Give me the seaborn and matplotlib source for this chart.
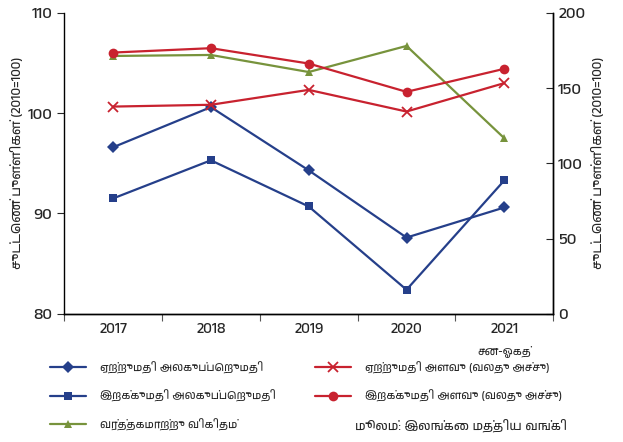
import numpy as np
import pandas as pd
import matplotlib
matplotlib.use('Agg')
import matplotlib.pyplot as plt
import seaborn as sns
from matplotlib import font_manager

# Data
years = ['2017', '2018', '2019', '2020', '2021']
period_note = 'சன-ஓகத்'   # under 2021
export_unit_value = [96.6, 100.6, 94.3, 87.6, 90.6]
import_unit_value = [91.5, 95.3, 90.7, 82.4, 93.3]
terms_of_trade = [105.7, 105.8, 104.1, 106.7, 97.5]
export_volume = [137.7, 138.9, 148.8, 134.4, 153.3]   # right axis
import_volume = [173.6, 176.5, 166.3, 147.5, 162.8]   # right axis

lbl_euv = 'ஏற்றுமதி அலகுப்பெறுமதி'
lbl_iuv = 'இறக்குமதி அலகுப்பெறுமதி'
lbl_tot = 'வர்த்தகமாற்று விகிதம்'
lbl_ev = 'ஏற்றுமதி அளவு (வலது அச்சு)'
lbl_iv = 'இறக்குமதி அளவு (வலது அச்சு)'
ylabel = 'சுட்டெண் புள்ளிகள் (2010=100)'
source = 'மூலம்: இலங்கை மத்திய வங்கி'

blue = '#253f8a'
red = '#c8222f'
green = '#77933c'

sns.set_style('ticks')
tamil = sorted({f.name for f in font_manager.fontManager.ttflist if 'Tamil' in f.name})
plt.rcParams['font.family'] = tamil[:1] + ['DejaVu Sans']

x = np.arange(len(years))
df = pd.DataFrame({'x': x, 'euv': export_unit_value, 'iuv': import_unit_value,
                   'tot': terms_of_trade, 'ev': export_volume, 'iv': import_volume})

fig = plt.figure(figsize=(6.23, 4.42), dpi=100)
ax = fig.add_axes([0.103, 0.29, 0.785, 0.681])
ax2 = ax.twinx()

sns.lineplot(data=df, x='x', y='euv', ax=ax, color=blue, marker='D', markersize=6,
             markeredgewidth=0, lw=1.6, label=lbl_euv, legend=False)
sns.lineplot(data=df, x='x', y='iuv', ax=ax, color=blue, marker='s', markersize=6,
             markeredgewidth=0, lw=1.6, label=lbl_iuv, legend=False)
sns.lineplot(data=df, x='x', y='tot', ax=ax, color=green, marker='^', markersize=6,
             markeredgewidth=0, lw=1.6, label=lbl_tot, legend=False)
sns.lineplot(data=df, x='x', y='ev', ax=ax2, color=red, marker='x', markersize=7,
             markeredgecolor=red, markeredgewidth=1.3, lw=1.6, label=lbl_ev, legend=False)
sns.lineplot(data=df, x='x', y='iv', ax=ax2, color=red, marker='o', markersize=7,
             markeredgewidth=0, lw=1.6, label=lbl_iv, legend=False)

ax.set_ylim(80, 110)
ax.set_yticks([80, 90, 100, 110])
ax2.set_ylim(0, 200)
ax2.set_yticks([0, 50, 100, 150, 200])
ax.set_xlim(-0.5, len(years) - 0.5)

# category boundaries as ticks, labels centred on categories
ax.set_xticks(np.arange(len(years) + 1) - 0.5)
ax.set_xticklabels([])
ax.set_xticks(x, minor=True)
ax.set_xticklabels(years, minor=True, fontsize=11)
ax.tick_params(axis='x', which='minor', length=0, pad=6)
ax.tick_params(axis='x', which='major', length=5, direction='out', color='#555555')
ax.tick_params(axis='y', labelsize=12, length=5, direction='out')
ax2.tick_params(axis='y', labelsize=12, length=5, direction='in')

ax.text(x[-1], -0.125, period_note, transform=ax.get_xaxis_transform(),
        ha='center', va='center', fontsize=8)

for a in (ax, ax2):
    a.spines['top'].set_visible(False)
    a.set_xlabel('')
    for s in a.spines.values():
        s.set_color('black')
        s.set_linewidth(1)
ax2.spines['left'].set_visible(False)

ax.set_ylabel(ylabel, fontsize=9.5, labelpad=3)
ax2.set_ylabel(ylabel, fontsize=9.5, labelpad=4)

h1, l1 = ax.get_legend_handles_labels()
h2, l2 = ax2.get_legend_handles_labels()
fig.legend(h1 + h2, l1 + l2, ncol=2, loc='upper left', bbox_to_anchor=(0.065, 0.205),
           frameon=False, fontsize=8, handlelength=3.2, handletextpad=1.3,
           columnspacing=3.5, labelspacing=1.45)

fig.text(0.91, 0.035, source, ha='right', va='center', fontsize=9)

fig.savefig('out.png', dpi=100)
